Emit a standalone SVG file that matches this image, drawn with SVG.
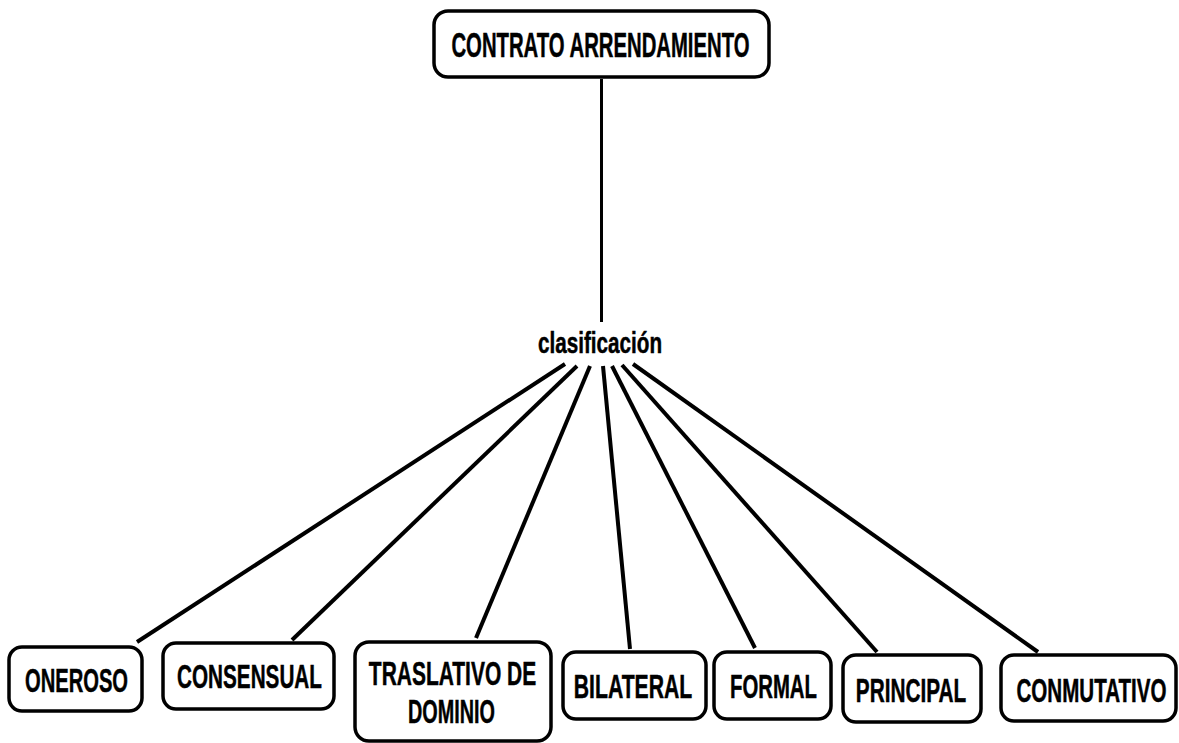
<svg xmlns="http://www.w3.org/2000/svg" width="1179" height="743" viewBox="0 0 1179 743">
<style>
.box{fill:#fff;stroke:#000;stroke-width:3.5}
.t{font-family:"Liberation Sans",Arial,sans-serif;font-weight:bold;fill:#000;stroke:#000;stroke-width:0.5;text-anchor:middle}
.n{font-size:34px}
.c{stroke:#000;stroke-width:4;fill:none;stroke-linecap:butt}
</style>
<rect width="1179" height="743" fill="#fff"/>
<g id="connectors">
<line class="c" x1="601.5" y1="79" x2="601.5" y2="322" style="stroke-width:3"/>
<line class="c" x1="565" y1="364" x2="137" y2="642"/>
<line class="c" x1="577" y1="366" x2="292" y2="640"/>
<line class="c" x1="590" y1="366" x2="476" y2="638"/>
<line class="c" x1="603" y1="366" x2="630" y2="649"/>
<line class="c" x1="612" y1="366" x2="755" y2="648"/>
<line class="c" x1="622" y1="365" x2="877" y2="652"/>
<line class="c" x1="633" y1="364" x2="1038" y2="652"/>
</g>
<g id="node-contrato">
<rect class="box" x="434" y="11" width="335" height="66" rx="14"/>
<text class="t" font-size="35.5" transform="translate(600.5 57) scale(0.572 1)">CONTRATO ARRENDAMIENTO</text>
</g>
<g id="node-clasificacion">
<text class="t" font-size="30" transform="translate(600 353) scale(0.689 1)">clasificación</text>
</g>
<g id="node-oneroso">
<rect class="box" x="9" y="647" width="133" height="64" rx="13"/>
<text class="t n" transform="translate(76.5 692) scale(0.593 1)">ONEROSO</text>
</g>
<g id="node-consensual">
<rect class="box" x="163" y="643" width="171" height="66" rx="13"/>
<text class="t n" transform="translate(249.5 688) scale(0.609 1)">CONSENSUAL</text>
</g>
<g id="node-traslativo">
<rect class="box" x="355" y="642" width="196" height="99" rx="14"/>
<text class="t n" transform="translate(452.5 685) scale(0.617 1)">TRASLATIVO DE</text>
<text class="t n" transform="translate(451.5 723) scale(0.583 1)">DOMINIO</text>
</g>
<g id="node-bilateral">
<rect class="box" x="563" y="652" width="143" height="67" rx="13"/>
<text class="t n" transform="translate(633 698) scale(0.623 1)">BILATERAL</text>
</g>
<g id="node-formal">
<rect class="box" x="714" y="652" width="117" height="67" rx="13"/>
<text class="t n" transform="translate(773.5 698) scale(0.598 1)">FORMAL</text>
</g>
<g id="node-principal">
<rect class="box" x="843" y="655" width="138" height="67" rx="13"/>
<text class="t n" transform="translate(911 702) scale(0.611 1)">PRINCIPAL</text>
</g>
<g id="node-conmutativo">
<rect class="box" x="1001" y="655" width="175" height="66" rx="13"/>
<text class="t n" transform="translate(1091.5 702) scale(0.605 1)">CONMUTATIVO</text>
</g>
</svg>
